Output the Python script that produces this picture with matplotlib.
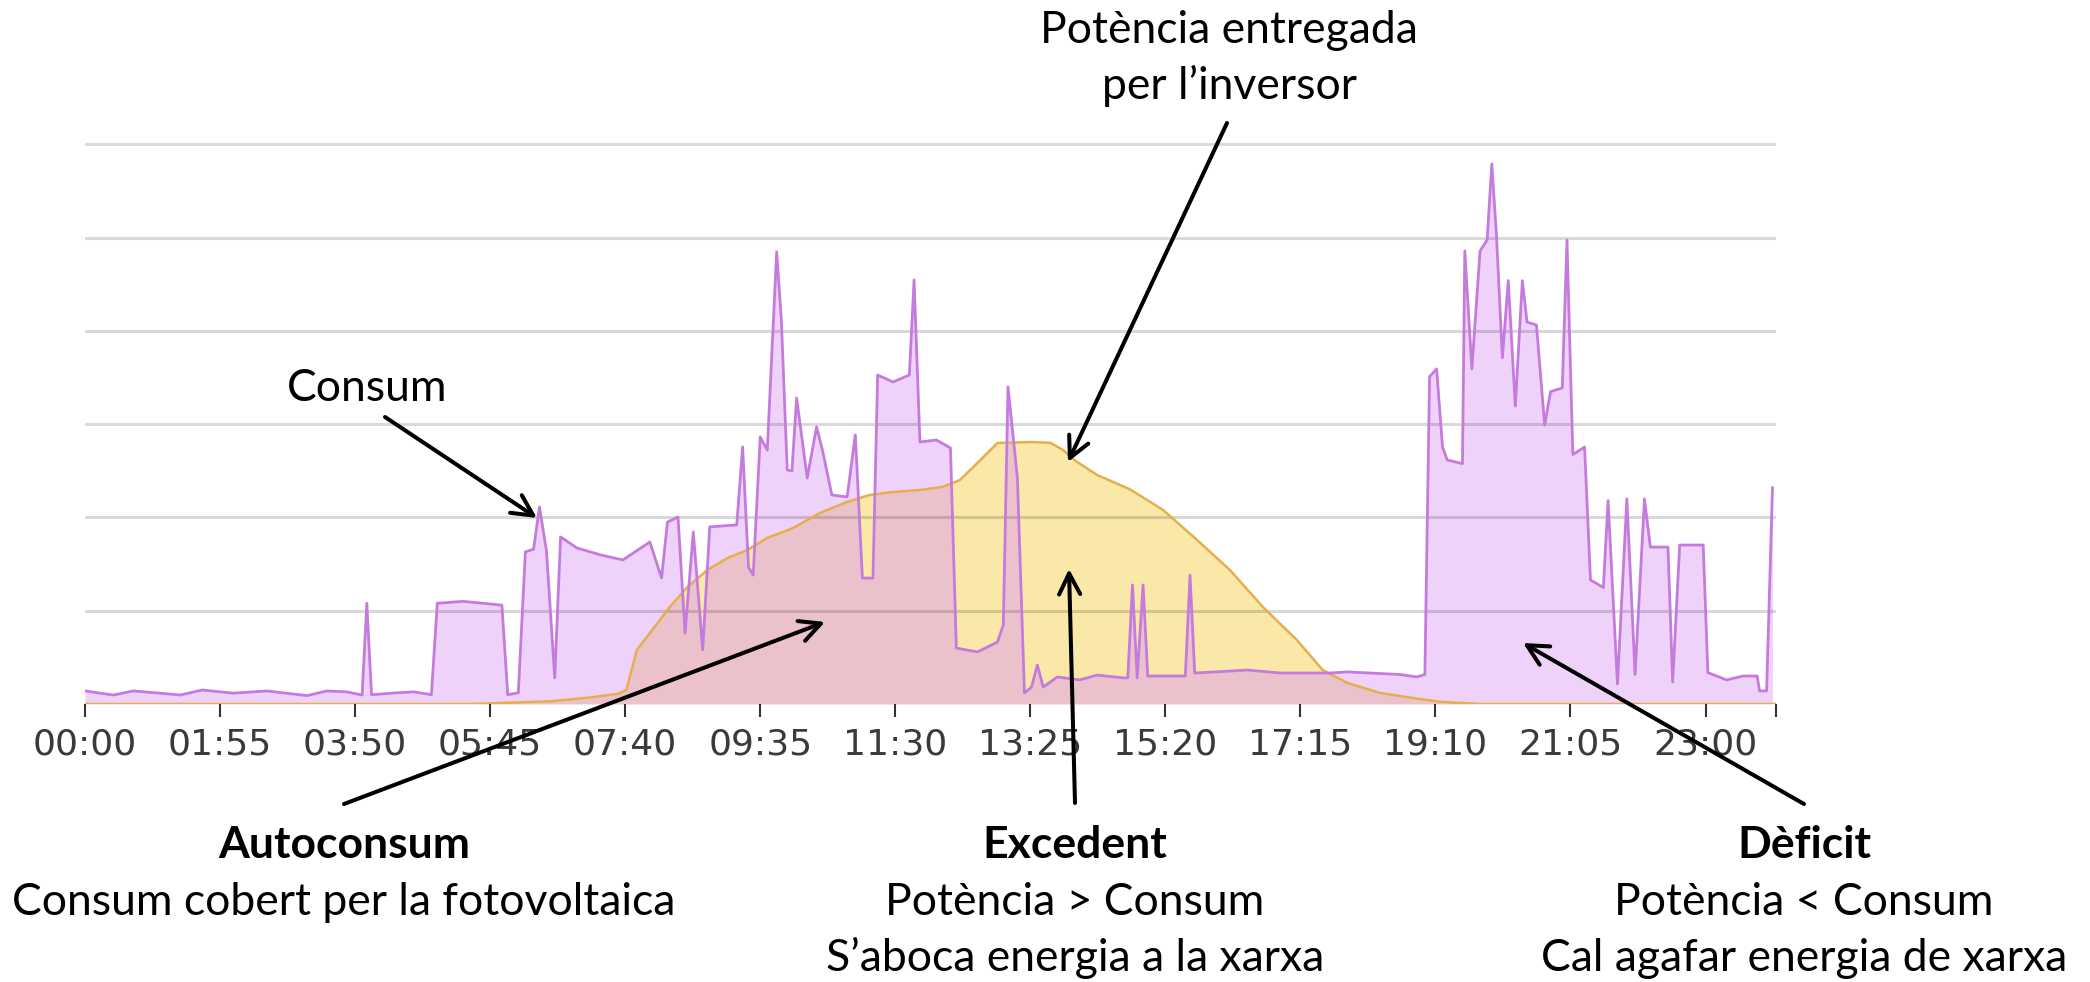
import matplotlib
matplotlib.use("Agg")
import matplotlib.pyplot as plt

# ---------------- data (minutes since 00:00, watts) ----------------
cons_t = [0, 24, 41, 64, 81, 100, 126, 155, 189, 206, 223, 236, 240, 244, 266, 280, 295,
          300, 322, 355, 360, 369, 375, 382, 387, 393, 400, 405, 419, 439, 458, 481, 491,
          496, 505, 511, 518, 526, 532, 555, 560, 565, 569, 575, 581, 589, 593, 598, 602,
          606, 615, 623, 628, 636, 649, 656, 662, 671, 675, 688, 702, 706, 711, 725, 737,
          742, 760, 777, 782, 786, 794, 800, 806, 811, 816, 828, 847, 862, 884, 888, 892,
          896, 901, 905, 937, 941, 945, 990, 1018, 1060, 1075, 1120, 1134, 1141, 1145, 1151,
          1156, 1160, 1173, 1175, 1181, 1188, 1194, 1198, 1202, 1207, 1212, 1218, 1224, 1228,
          1236, 1243, 1248, 1258, 1262, 1267, 1277, 1282, 1293, 1297, 1305, 1313, 1320, 1328,
          1333, 1348, 1352, 1358, 1378, 1382, 1398, 1412, 1424, 1426, 1432, 1437]
cons_w = [70, 48, 70, 58, 48, 75, 58, 70, 45, 70, 65, 48, 540, 50, 60, 65, 50,
          540, 550, 530, 50, 60, 815, 830, 1056, 820, 140, 895, 836, 799, 772, 868, 675,
          975, 1002, 380, 922, 290, 949, 960, 1378, 734, 691, 1431, 1361, 2423, 2058, 1254, 1249,
          1640, 1211, 1485, 1360, 1120, 1110, 1442, 675, 675, 1763, 1726, 1763, 2273, 1404, 1415, 1372,
          300, 279, 332, 423, 1700, 1211, 59, 91, 209, 91, 145, 129, 155, 140, 140, 638,
          140, 638, 150, 150, 691, 166, 182, 166, 166, 172, 158, 145, 158, 1754, 1796,
          1377, 1308, 1288, 2428, 1796, 2428, 2487, 2894, 2508, 1855, 2269, 1597, 2269, 2047,
          2031, 1495, 1674, 1694, 2487, 1337, 1377, 665, 624, 1090, 107, 1099, 158, 1099,
          841, 841, 118, 852, 852, 168, 129, 150, 150, 70, 70, 1159]

prod_t = [0, 330, 397, 430, 454, 461, 470, 481, 498, 513, 530, 547, 564, 581, 603, 626,
          649, 668, 688, 711, 730, 745, 760, 777, 805, 822, 833, 843, 862, 890, 918, 947,
          975, 1003, 1032, 1054, 1075, 1103, 1131, 1154, 1188, 1440]
prod_w = [0, 0, 15, 35, 55, 75, 290, 380, 520, 627, 718, 782, 825, 890, 943, 1024,
          1083, 1120, 1136, 1147, 1163, 1200, 1292, 1399, 1404, 1400, 1361, 1305, 1227, 1150, 1040, 879,
          718, 520, 343, 182, 113, 59, 32, 12, 0, 0]

tick_pos = [0, 115, 230, 345, 460, 575, 690, 805, 920, 1035, 1150, 1265, 1380, 1440]
tick_lab = ["00:00", "01:55", "03:50", "05:45", "07:40", "09:35", "11:30", "13:25",
            "15:20", "17:15", "19:10", "21:05", "23:00", ""]
grid_vals = [500, 1000, 1500, 2000, 2500, 3000]

# ---------------- layout ----------------
W, H = 2090, 982
fig = plt.figure(figsize=(W / 100, H / 100), dpi=100)
fig.patch.set_facecolor("white")

ymax = 3100
px_per_unit = 93.3 / 500.0
x0_px, x1_px, base_px = 85, 1776, 704
top_px = base_px - ymax * px_per_unit
ax = fig.add_axes([x0_px / W, (H - base_px) / H, (x1_px - x0_px) / W, (base_px - top_px) / H])
ax.set_xlim(0, 1440)
ax.set_ylim(0, ymax)

c_prod_fill = "#FAE8A8"
c_cons_fill = "#EFD2FA"
c_over_fill = "#EBC2CB"
c_cons_line = "#C47BDD"
c_prod_line = "#E5AF4C"

ax.fill_between(prod_t, prod_w, color=c_prod_fill, lw=0, zorder=1)
cons_poly = ax.fill_between(cons_t, cons_w, color=c_cons_fill, lw=0, zorder=1.1)
over = ax.fill_between(prod_t, prod_w, color=c_over_fill, lw=0, zorder=1.2)
over.set_clip_path(cons_poly.get_paths()[0], ax.transData)

ax.plot(prod_t, prod_w, color=c_prod_line, lw=1.8, zorder=3)
ax.plot(cons_t, cons_w, color=c_cons_line, lw=2.0, zorder=3.2)

ax.set_yticks(grid_vals)
ax.set_axisbelow(False)
ax.grid(axis="y", color="#000000", alpha=0.15, lw=2.2)
ax.tick_params(axis="y", length=0, labelleft=False)
ax.set_xticks(tick_pos)
ax.set_xticklabels(tick_lab)
ax.tick_params(axis="x", direction="out", length=9, width=1.5, color="#333333",
               pad=8, labelsize=26, labelcolor="#3a3a3a")
for s in ax.spines.values():
    s.set_visible(False)

# ---------------- annotations ----------------
FONT = "Lato"
FS = 32


def ftext(x, y, s, bold=False):
    fig.text(x / W, 1 - y / H, s, ha="center", va="baseline", fontsize=FS,
             family=FONT, fontweight="bold" if bold else "normal", color="black")


ftext(1229, 43, "Potència entregada")
ftext(1229, 99, "per l’inversor")
ftext(367, 401, "Consum")
ftext(344, 858, "Autoconsum", bold=True)
ftext(344, 915, "Consum cobert per la fotovoltaica")
ftext(1075, 858, "Excedent", bold=True)
ftext(1075, 915, "Potència > Consum")
ftext(1075, 971, "S’aboca energia a la xarxa")
ftext(1804, 858, "Dèficit", bold=True)
ftext(1804, 915, "Potència < Consum")
ftext(1804, 971, "Cal agafar energia de xarxa")


def farrow(tail, head):
    ax.annotate("", xy=(head[0], H - head[1]), xytext=(tail[0], H - tail[1]),
                xycoords="figure pixels", textcoords="figure pixels",
                arrowprops=dict(arrowstyle="->,head_length=0.75,head_width=0.38",
                                lw=2.9, color="black", mutation_scale=20,
                                shrinkA=0, shrinkB=0), annotation_clip=False, zorder=10)


farrow((385, 417), (537, 518))
farrow((1227, 123), (1068, 462))
farrow((344, 804), (825, 622))
farrow((1075, 803), (1069, 569))
farrow((1804, 804), (1523, 643))

fig.savefig("out.png", dpi=100, facecolor="white")
